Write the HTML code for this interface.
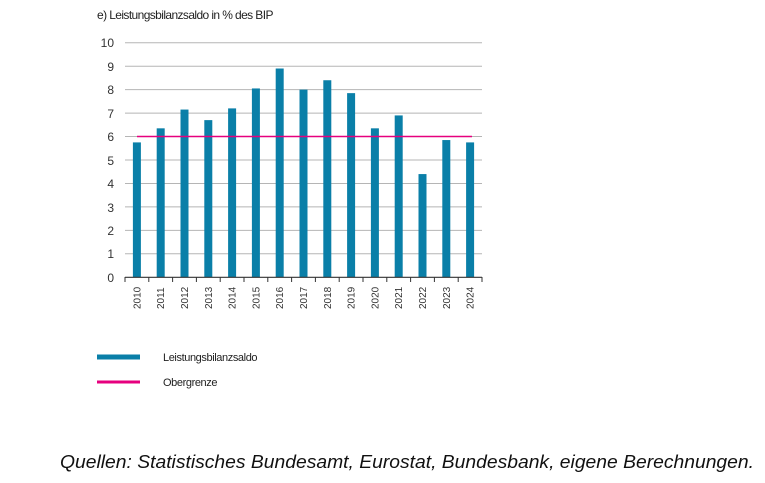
<!DOCTYPE html>
<html><head><meta charset="utf-8"><style>
body{margin:0;background:#fff;width:765px;height:478px;overflow:hidden;font-family:"Liberation Sans",sans-serif}
</style></head><body>
<svg width="765" height="478" xmlns="http://www.w3.org/2000/svg" font-family="Liberation Sans, sans-serif">
<text x="97" y="19" font-size="12" fill="#222" letter-spacing="-0.6">e) Leistungsbilanzsaldo in % des BIP</text>
<g stroke="#b5b5b5" stroke-width="1">
<line x1="125" x2="482" y1="42.7" y2="42.7"/><line x1="125" x2="482" y1="66.2" y2="66.2"/>
<line x1="125" x2="482" y1="89.6" y2="89.6"/><line x1="125" x2="482" y1="113.1" y2="113.1"/>
<line x1="125" x2="482" y1="136.5" y2="136.5"/><line x1="125" x2="482" y1="160" y2="160"/>
<line x1="125" x2="482" y1="183.5" y2="183.5"/><line x1="125" x2="482" y1="206.9" y2="206.9"/>
<line x1="125" x2="482" y1="230.4" y2="230.4"/><line x1="125" x2="482" y1="253.8" y2="253.8"/>
</g>
<g font-size="12" fill="#333" text-anchor="end">
<text x="114" y="47">10</text><text x="114" y="71">9</text><text x="114" y="94">8</text><text x="114" y="118">7</text><text x="114" y="141">6</text><text x="114" y="165">5</text><text x="114" y="188">4</text><text x="114" y="212">3</text><text x="114" y="235">2</text><text x="114" y="258">1</text><text x="114" y="282">0</text>
</g>
<g fill="#0a7fa8" id="bars"></g>
<line x1="137" x2="472" y1="136.5" y2="136.5" stroke="#e6007e" stroke-width="1.5"/>
<line x1="125" x2="482" y1="277.3" y2="277.3" stroke="#333" stroke-width="1.2"/>
<g id="ticks" stroke="#333" stroke-width="1"></g>
<g id="labels" font-size="10" fill="#333"></g>
<line x1="97" x2="140" y1="357" y2="357" stroke="#0a7fa8" stroke-width="5"/>
<text x="163" y="361" font-size="11" fill="#222" letter-spacing="-0.4">Leistungsbilanzsaldo</text>
<line x1="97" x2="140" y1="382" y2="382" stroke="#e6007e" stroke-width="3"/>
<text x="163" y="386" font-size="11" fill="#222" letter-spacing="-0.4">Obergrenze</text>
<text x="60" y="468" font-size="18" font-style="italic" fill="#111" textLength="694" lengthAdjust="spacingAndGlyphs">Quellen: Statistisches Bundesamt, Eurostat, Bundesbank, eigene Berechnungen.</text>
</svg>
<script>
var v=[5.75,6.35,7.15,6.7,7.2,8.05,8.9,8.0,8.4,7.85,6.35,6.9,4.4,5.85,5.75];
var ns="http://www.w3.org/2000/svg",b=document.getElementById("bars"),t=document.getElementById("ticks"),l=document.getElementById("labels");
for(var i=0;i<15;i++){var cx=125+23.8*(i+0.5);var r=document.createElementNS(ns,"rect");
r.setAttribute("x",cx-4);r.setAttribute("width",8);var h=v[i]*23.46;r.setAttribute("y",277.3-h);r.setAttribute("height",h);b.appendChild(r);
var ln=document.createElementNS(ns,"line");var tx=125+23.8*i;ln.setAttribute("x1",tx);ln.setAttribute("x2",tx);ln.setAttribute("y1",277);ln.setAttribute("y2",282);t.appendChild(ln);
var tx2=document.createElementNS(ns,"text");tx2.setAttribute("transform","translate("+(cx+3.5)+",309) rotate(-90)");tx2.textContent=2010+i;l.appendChild(tx2);}
var ln=document.createElementNS(ns,"line");ln.setAttribute("x1",482);ln.setAttribute("x2",482);ln.setAttribute("y1",277);ln.setAttribute("y2",282);t.appendChild(ln);
</script>
</body></html>
